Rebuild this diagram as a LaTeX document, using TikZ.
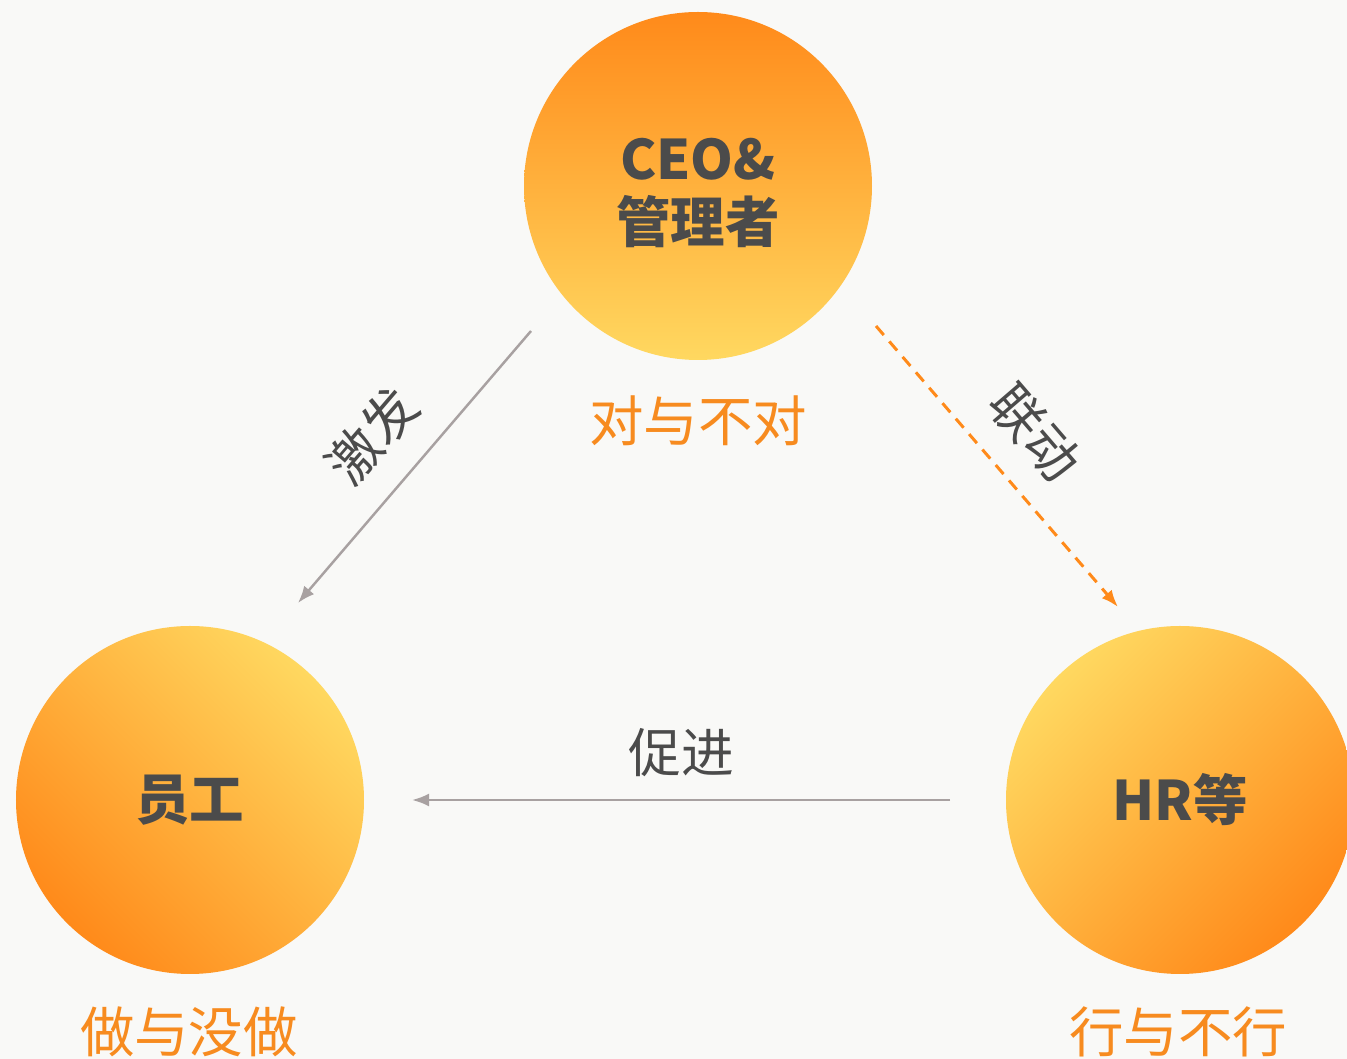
\documentclass[tikz,border=0pt]{standalone}
\usepackage{fontspec}
\setmainfont{Noto Sans CJK SC}
\usetikzlibrary{arrows.meta}

\definecolor{fundo}{HTML}{F9F9F7}
\definecolor{laranja}{HTML}{FF8A1A}
\definecolor{amarelo}{HTML}{FFD860}
\definecolor{cinza}{HTML}{A8A1A1}
\definecolor{escrita}{HTML}{4B4B4B}
\definecolor{rotulo}{HTML}{F78B1F}

\tikzset{
  ball/.style={circle, minimum size=3.48cm, inner sep=0pt, align=center,
    text=escrita, font=\bfseries\fontsize{15.5}{18}\selectfont},
  tag/.style={text=rotulo, font=\fontsize{15.5}{18}\selectfont},
  verb/.style={text=escrita, font=\fontsize{15}{18}\selectfont}
}

\begin{document}
\begin{tikzpicture}[>={Latex[length=1.7mm,width=1.3mm]}]

	% --- fundo
	\fill[fundo] (0,0) rectangle (13.47,10.59);
	\useasboundingbox (0,0) rectangle (13.47,10.59);

	% --- CEO (circulo de cima)
	\node[ball, top color=laranja, bottom color=amarelo] (ceo) at (6.98,8.73) {};
	\node[ball, minimum size=0pt] (ceotext) at ([yshift=-0.07cm]ceo.center) {CEO\&\\管理者};
	\node[tag] (ceotag) at (6.98,6.38) {对与不对};

	% --- Staff (circulo da esquerda)
	\node[ball, top color=amarelo, bottom color=laranja, shading angle=-45] (staff) at (1.90,2.59) {员工};
	\node[tag] (stafftag) at (1.89,0.27) {做与没做};

	% --- HR (circulo da direita)
	\node[ball, top color=amarelo, bottom color=laranja, shading angle=45] (hr) at (11.80,2.59) {HR等};
	\node[tag] (hrtag) at (11.78,0.27) {行与不行};

	% pontas das setas
	\coordinate (jfa) at (5.31,7.28);
	\coordinate (jfb) at (2.98,4.56);
	\coordinate (lda) at (8.76,7.33);
	\coordinate (ldb) at (11.18,4.52);
	\coordinate (cja) at (9.50,2.59);
	\coordinate (cjb) at (4.12,2.59);

	% --- setas
	\draw[->,cinza,line width=0.7pt] (jfa) -- (jfb);
	\node[verb,rotate=49.4] (jf) at (3.72,6.24) {激发};

	\draw[->,laranja,line width=0.85pt,dash pattern=on 3.4pt off 2.4pt] (lda) -- (ldb);
	\node[verb,rotate=-49.3] (ld) at (10.35,6.26) {联动};

	\draw[->,cinza,line width=0.7pt] (cja) -- (cjb);
	\node[verb] (cj) at (6.81,3.06) {促进};

\end{tikzpicture}
\end{document}
